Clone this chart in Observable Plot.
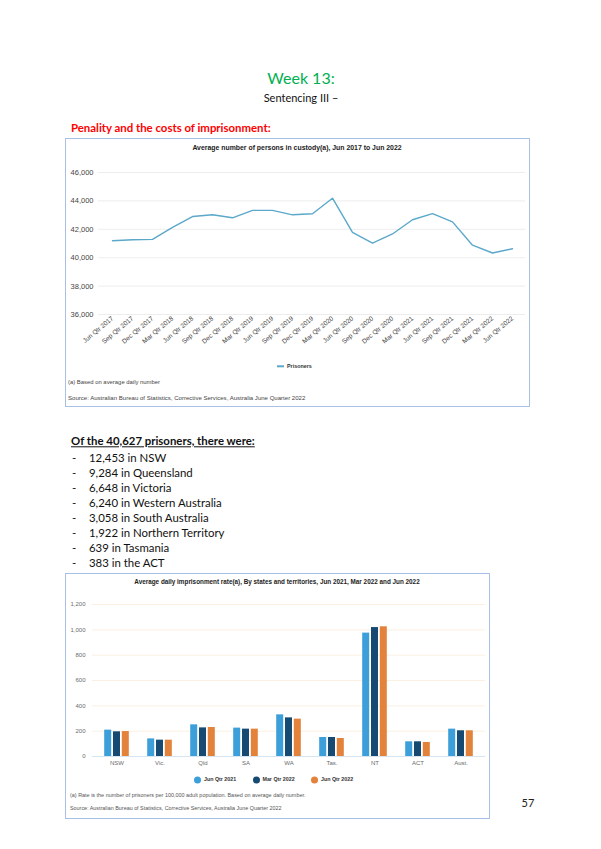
<!DOCTYPE html>
<html><head><meta charset="utf-8">
<script src="https://cdn.jsdelivr.net/npm/d3@7"></script>
<script src="https://cdn.jsdelivr.net/npm/@observablehq/plot@0.6"></script>
<style>
body{margin:0;background:#fff;}
#page{position:relative;width:601px;height:849px;overflow:hidden;font-family:Lato,"Open Sans",sans-serif;color:#111;}
.abs{position:absolute;white-space:nowrap;line-height:1;transform:translateY(-50%);}
.ctr{transform:translate(-50%,-50%);}
.box{position:absolute;border:1px solid #a9bfe6;box-sizing:border-box;}
.cf{font-family:"Liberation Sans",Arial,sans-serif;}
.plot{position:absolute;}
</style></head>
<body><div id="page"></div>
<script>
// ---- data: chart 1 ----
const quarters = ["Jun Qtr 2017","Sep Qtr 2017","Dec Qtr 2017","Mar Qtr 2018","Jun Qtr 2018","Sep Qtr 2018","Dec Qtr 2018","Mar Qtr 2019","Jun Qtr 2019","Sep Qtr 2019","Dec Qtr 2019","Mar Qtr 2020","Jun Qtr 2020","Sep Qtr 2020","Dec Qtr 2020","Mar Qtr 2021","Jun Qtr 2021","Sep Qtr 2021","Dec Qtr 2021","Mar Qtr 2022","Jun Qtr 2022"];
const prisoners = [41190,41260,41290,42140,42900,43020,42810,43330,43330,43020,43100,44190,41790,41020,41670,42670,43100,42520,40880,40330,40627];
const custodyTicks = [36000,38000,40000,42000,44000,46000];
// ---- data: list ----
const listItems = ["12,453 in NSW","9,284 in Queensland","6,648 in Victoria","6,240 in Western Australia","3,058 in South Australia","1,922 in Northern Territory","639 in Tasmania","383 in the ACT"];
// ---- data: chart 2 ----
const states = ["NSW","Vic.","Qld","SA","WA","Tas.","NT","ACT","Aust."];
const series = ["Jun Qtr 2021","Mar Qtr 2022","Jun Qtr 2022"];
const jun2021 = [208,139,250,224,329,150,974,116,216];
const mar2022 = [195,129,226,216,305,150,1018,116,203];
const jun2022 = [197,129,229,216,295,142,1024,111,203];
const rateTicks = [0,200,400,600,800,1000,1200];
const seriesColors = ["#3d9fd9","#174a72","#e3823a"];

const page = document.getElementById("page");
function txt(s, x, y, css, center){
  const d = document.createElement("div");
  d.className = "abs" + (center ? " ctr" : "");
  d.textContent = s;
  d.style.left = x + "px"; d.style.top = y + "px";
  d.style.cssText += ";" + (css || "");
  page.appendChild(d); return d;
}
function box(x, y, w, h){
  const d = document.createElement("div");
  d.className = "box";
  Object.assign(d.style, {left:x+"px", top:y+"px", width:w+"px", height:h+"px"});
  page.appendChild(d);
}
function place(svg, x, y){
  const w = document.createElement("div");
  w.className = "plot"; w.style.left = x+"px"; w.style.top = y+"px";
  w.appendChild(svg); page.appendChild(w);
}
const AR = "font-family:'Liberation Sans',Arial,sans-serif;";

// headings
txt("Week 13:", 301, 78, "font-size:16px;color:#00b050;", true);
txt("Sentencing III –", 301, 97, "font-size:11px;color:#111;", true);
txt("Penality and the costs of imprisonment:", 71, 128, "font-size:11.4px;font-weight:700;color:#ff0000;");

// chart 1
box(65, 138, 465, 269);
txt("Average number of persons in custody(a), Jun 2017 to Jun 2022", 297, 147.5, AR + "font-size:6.9px;font-weight:700;color:#222;", true);
const custodyData = quarters.map((q,i)=>({quarter:q, value:prisoners[i]}));
const c1 = Plot.plot({
  width: 462, height: 200,
  marginLeft: 31, marginRight: 4, marginTop: 12, marginBottom: 46,
  style: {fontFamily: "Liberation Sans, Arial, sans-serif", fontSize: "6.5px", color: "#444", background: "transparent", overflow: "visible"},
  x: {type: "point", domain: quarters, padding: 0.5, tickRotate: -40, tickSize: 0, tickPadding: 3, label: null},
  y: {domain: [36000, 46000], ticks: custodyTicks, tickFormat: d3.format(","), tickSize: 0, tickPadding: 5, label: null},
  marks: [
    Plot.ruleY(custodyTicks, {stroke: "#e8e8e8", strokeWidth: 0.8}),
    Plot.lineY(custodyData, {x: "quarter", y: "value", stroke: "#5ba8cb", strokeWidth: 1.4})
  ]
});
c1.querySelectorAll('g[aria-label="y-axis tick label"] text, g[aria-label="y-axis"] text').forEach(t=>t.style.fontSize="7.5px");
place(c1, 67, 160);
// legend 1
const lg1 = document.createElement("div");
lg1.className = "abs cf";
lg1.style.cssText = "left:277px;top:366.5px;font-size:5.4px;font-weight:700;color:#333;";
lg1.innerHTML = '<span style="display:inline-block;width:7px;height:1.3px;background:#5ba8cb;vertical-align:middle;margin-right:3px"></span>Prisoners';
page.appendChild(lg1);
txt("(a) Based on average daily number", 68, 383, AR + "font-size:5.9px;color:#444;");
txt("Source: Australian Bureau of Statistics, Corrective Services, Australia June Quarter 2022", 68, 397.5, AR + "font-size:6.05px;color:#444;");

// list
txt("Of the 40,627 prisoners, there were:", 71, 441, "font-size:11.4px;font-weight:700;text-decoration:underline;");
listItems.forEach((s,i)=>{
  txt("-", 72, 458 + i*15, "font-size:11.4px;");
  txt(s, 89, 458 + i*15, "font-size:11.4px;");
});

// chart 2
box(65, 573, 425, 246);
txt("Average daily imprisonment rate(a), By states and territories, Jun 2021, Mar 2022 and Jun 2022", 277, 581.8, AR + "font-size:6.35px;font-weight:700;color:#222;", true);
const rows = [jun2021, mar2022, jun2022].map(vals => states.map((s,i)=>({state:s, value:vals[i]})));
const offsets = [-8.8, 0, 8.8];
const c2 = Plot.plot({
  width: 422, height: 175,
  marginLeft: 25, marginRight: 4, marginTop: 9, marginBottom: 14,
  style: {fontFamily: "Liberation Sans, Arial, sans-serif", fontSize: "6px", color: "#6b6b6b", background: "transparent", overflow: "visible"},
  x: {type: "band", domain: states, paddingInner: 0.84, paddingOuter: 0.42, tickSize: 0, tickPadding: 4, label: null},
  y: {domain: [0, 1200], ticks: rateTicks, tickFormat: d3.format(","), tickSize: 0, tickPadding: 7, label: null},
  marks: [
    Plot.ruleY(rateTicks.filter(d=>d>0), {stroke: "#fbeede", strokeWidth: 0.9}),
    Plot.ruleY([0], {stroke: "#d3e2f1", strokeWidth: 0.9}),
    ...rows.map((data,k)=>Plot.barY(data, {x: "state", y: "value", fill: seriesColors[k], dx: offsets[k]}))
  ]
});
place(c2, 67, 595);
// legend 2
series.forEach((s,i)=>{
  const d = document.createElement("div");
  d.className = "abs cf";
  d.style.cssText = `left:${194 + i*58.5}px;top:780px;font-size:5.3px;font-weight:700;color:#333;`;
  d.innerHTML = `<span style="display:inline-block;width:7px;height:7px;border-radius:50%;background:${seriesColors[i]};vertical-align:middle;margin-right:3px"></span>${s}`;
  page.appendChild(d);
});
txt("(a) Rate is the number of prisoners per 100,000 adult population. Based on average daily number.", 70, 796, AR + "font-size:5.45px;color:#555;");
txt("Source: Australian Bureau of Statistics, Corrective Services, Australia June Quarter 2022", 70, 808.5, AR + "font-size:5.4px;color:#555;");

txt("57", 528, 802, "font-size:11px;color:#222;", true);
</script>
</body></html>
